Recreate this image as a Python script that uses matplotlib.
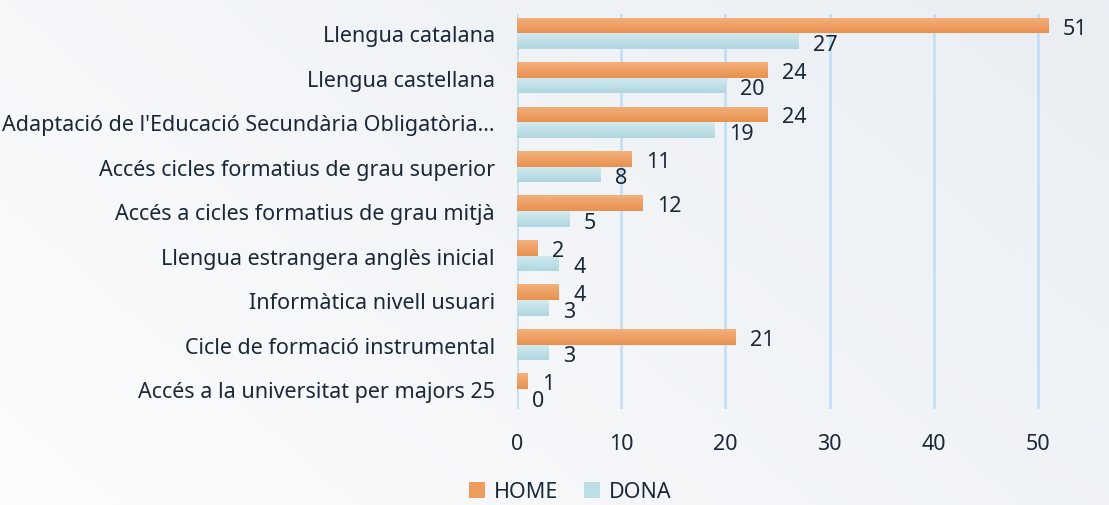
import matplotlib.pyplot as plt
import numpy as np
from matplotlib.colors import LinearSegmentedColormap
from matplotlib.patches import Patch

categories = [
    "Llengua catalana",
    "Llengua castellana",
    "Adaptació de l'Educació Secundària Obligatòria…",
    "Accés cicles formatius de grau superior",
    "Accés a cicles formatius de grau mitjà",
    "Llengua estrangera anglès inicial",
    "Informàtica nivell usuari",
    "Cicle de formació instrumental",
    "Accés a la universitat per majors 25",
]
home = [51, 24, 24, 11, 12, 2, 4, 21, 1]
dona = [27, 20, 19, 8, 5, 4, 3, 3, 0]
x_ticks = [0, 10, 20, 30, 40, 50]

TEXT = "#1b2838"
ORANGE = "#ee9c5e"
BLUE = "#bcdfe6"
GRID = "#c3dff5"
FS = 15.5

plt.rcParams["font.family"] = ["Noto Sans", "DejaVu Sans"]

fig = plt.figure(figsize=(11.09, 5.06), dpi=100)

# background gradient
bg = fig.add_axes([0, 0, 1, 1], zorder=-10)
gx, gy = np.meshgrid(np.linspace(0, 1, 200), np.linspace(0, 1, 100))
t = np.clip(0.65 * gx + 0.35 * gy, 0, 1)
c0 = np.array([0.985, 0.988, 0.992])
c1 = np.array([0.918, 0.933, 0.953])
img = c0[None, None, :] * (1 - t[..., None]) + c1[None, None, :] * t[..., None]
bg.imshow(img, aspect="auto", origin="lower", extent=[0, 1, 0, 1])
bg.axis("off")

ax = fig.add_axes([517 / 1109, 1 - 410 / 506, (1090 - 517) / 1109, (410 - 15) / 506])
ax.patch.set_alpha(0)

y = np.arange(len(categories))
h = 0.35


def grad_bars(ax, ys, vals, color, light):
    bars = ax.barh(ys, vals, height=h, color=color, zorder=3)
    grad = np.linspace(0, 1, 50)[:, None]
    cmap = LinearSegmentedColormap.from_list("g", [light, color])
    for b in bars:
        x0, y0 = b.get_x(), b.get_y()
        w, hh = b.get_width(), b.get_height()
        if w <= 0:
            continue
        im = ax.imshow(grad, cmap=cmap, aspect="auto", zorder=4,
                       extent=[x0, x0 + w, y0 + hh, y0], interpolation="bilinear")
        im.set_clip_path(b)
    return bars


grad_bars(ax, y - h / 2, home, "#e8914f", "#f3b07c")
grad_bars(ax, y + h / 2, dona, "#b0d6df", "#d2ebf0")

for i in range(len(categories)):
    ax.text(home[i] + 1.4, y[i] - h / 2 + 0.06, str(home[i]), va="center", ha="left",
            fontsize=FS, color=TEXT, zorder=5)
    ax.text(dona[i] + 1.4, y[i] + h / 2 + 0.08, str(dona[i]), va="center", ha="left",
            fontsize=FS, color=TEXT, zorder=5)

ax.set_xlim(0, 55)
ax.set_ylim(len(categories) - 0.55, -0.43)
ax.set_xticks(x_ticks)
ax.set_yticks(y)
ax.set_yticklabels(categories)
ax.tick_params(axis="y", length=0, pad=16, labelsize=FS, labelcolor=TEXT)
ax.tick_params(axis="x", length=0, pad=17, labelsize=FS, labelcolor=TEXT)
ax.grid(axis="x", color=GRID, linewidth=2, zorder=0)
ax.set_axisbelow(True)
for s in ax.spines.values():
    s.set_visible(False)

handles = [Patch(facecolor=ORANGE, label="HOME"), Patch(facecolor=BLUE, label="DONA")]
fig.legend(handles=handles, loc="center", bbox_to_anchor=(570 / 1109, 1 - 493 / 506),
           ncol=2, frameon=False, fontsize=FS, handlelength=0.75, handleheight=0.75,
           handletextpad=0.4, columnspacing=1.2, labelcolor=TEXT, borderpad=0.2)

fig.savefig("out.png", dpi=100)
